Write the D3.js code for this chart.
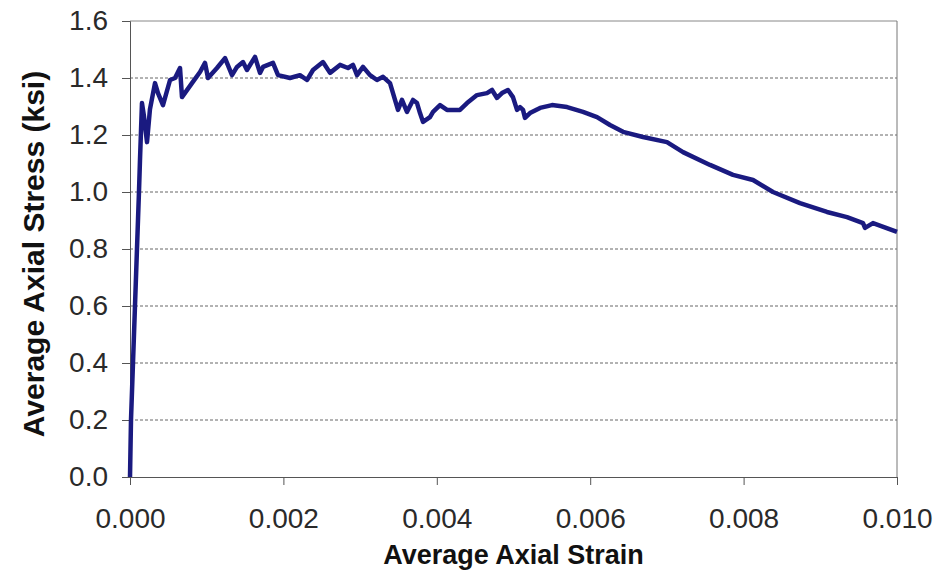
<!DOCTYPE html>
<html>
<head>
<meta charset="utf-8">
<script src="https://cdn.jsdelivr.net/npm/d3@7"></script>
<style>
  body { margin: 0; background: #fff; }
  svg { display: block; font-family: Arial, "Liberation Sans", sans-serif; }
</style>
</head>
<body>
<script>
// strain / stress
const strain = [0, 0.000013, 0.000039, 0.000065, 0.000091, 0.000117, 0.00013, 0.000156, 0.00018, 0.000222,
  0.00026, 0.000326, 0.000365, 0.00043, 0.000522, 0.000587, 0.000652, 0.000678, 0.000808, 0.000913,
  0.000978, 0.001017, 0.001134, 0.001239, 0.00133, 0.001395, 0.001473, 0.001525, 0.00163, 0.001695,
  0.001734, 0.001864, 0.00193, 0.002086, 0.002216, 0.002308, 0.002386, 0.002516, 0.002608, 0.002738,
  0.002842, 0.002907, 0.00296, 0.003038, 0.003129, 0.00322, 0.003299, 0.00339, 0.003455, 0.003494,
  0.003546, 0.003611, 0.00369, 0.003742, 0.003781, 0.00382, 0.003911, 0.003951, 0.004042, 0.004133,
  0.004302, 0.004394, 0.004524, 0.004654, 0.00472, 0.004785, 0.00485, 0.004928, 0.004993, 0.005046,
  0.005085, 0.005124, 0.00515, 0.005215, 0.005346, 0.005502, 0.005698, 0.005906, 0.006089, 0.006258,
  0.006428, 0.006688, 0.007001, 0.00721, 0.007562, 0.007862, 0.008123, 0.008383, 0.008735, 0.009087,
  0.009348, 0.009557, 0.009583, 0.009687, 0.01]
const stress = [0, 0.20, 0.40, 0.60, 0.80, 1.00, 1.11, 1.312, 1.27, 1.175,
  1.29, 1.382, 1.347, 1.305, 1.393, 1.40, 1.435, 1.333, 1.382, 1.421,
  1.453, 1.40, 1.435, 1.47, 1.41, 1.439, 1.456, 1.428, 1.474, 1.418,
  1.439, 1.453, 1.41, 1.40, 1.41, 1.393, 1.428, 1.456, 1.418, 1.446,
  1.435, 1.446, 1.41, 1.439, 1.41, 1.393, 1.404, 1.382, 1.323, 1.288,
  1.323, 1.281, 1.323, 1.312, 1.277, 1.246, 1.263, 1.281, 1.305, 1.288,
  1.288, 1.312, 1.34, 1.347, 1.358, 1.33, 1.347, 1.358, 1.333, 1.288,
  1.298, 1.288, 1.26, 1.277, 1.295, 1.305, 1.298, 1.281, 1.263, 1.235,
  1.211, 1.193, 1.175, 1.14, 1.095, 1.06, 1.042, 1.0, 0.961, 0.93,
  0.912, 0.891, 0.874, 0.891, 0.86]
const xTicks = [0, 0.002, 0.004, 0.006, 0.008, 0.010]
const yTicks = [0, 0.2, 0.4, 0.6, 0.8, 1.0, 1.2, 1.4, 1.6]

const WIDTH = 937, HEIGHT = 573
const M = {top: 21, right: 40, bottom: 96, left: 130}
const W = WIDTH - M.left - M.right
const H = HEIGHT - M.top - M.bottom

const svg = d3.select('body').append('svg')
  .attr('width', WIDTH).attr('height', HEIGHT)

const x = d3.scaleLinear().domain([0, 0.01]).range([0, W])
const y = d3.scaleLinear().domain([0, 1.6]).range([H, 0])

const g = svg.append('g').attr('transform', `translate(${M.left},${M.top})`)

// dashed gridlines
g.selectAll('line.grid')
  .data(yTicks.filter(d => d > 0 && d < 1.6))
  .enter().append('line')
  .attr('class', 'grid')
  .attr('x1', 0).attr('x2', W)
  .attr('y1', d => y(d)).attr('y2', d => y(d))
  .attr('stroke', '#666')
  .attr('stroke-width', 1)
  .attr('stroke-dasharray', '3,2')

// plot border top / right
g.append('line').attr('x1', 0).attr('x2', W).attr('y1', 0).attr('y2', 0)
  .attr('stroke', '#888').attr('stroke-width', 1)
g.append('line').attr('x1', W).attr('x2', W).attr('y1', 0).attr('y2', H)
  .attr('stroke', '#777').attr('stroke-width', 1)

const xAxis = g.append('g')
  .attr('transform', `translate(0,${H})`)
  .call(d3.axisBottom(x).tickValues(xTicks).tickFormat(d3.format('.3f')).tickSize(8).tickPadding(23))
const yAxis = g.append('g')
  .call(d3.axisLeft(y).tickValues(yTicks).tickFormat(d3.format('.1f')).tickSize(8).tickPadding(14))

for (const ax of [xAxis, yAxis]) {
  ax.select('.domain').attr('stroke', '#555')
  ax.selectAll('.tick line').attr('stroke', '#555')
  ax.selectAll('.tick text')
    .attr('fill', '#2a2a2a')
    .style('font-size', '28px')
    .style('font-family', 'Arial, "Liberation Sans", sans-serif')
}

// curve
const pts = strain.map((s, i) => [s, stress[i]])
g.append('path')
  .datum(pts)
  .attr('fill', 'none')
  .attr('stroke', '#1a1a80')
  .attr('stroke-width', 4.5)
  .attr('stroke-linejoin', 'round')
  .attr('d', d3.line().x(d => x(d[0])).y(d => y(d[1])))

// axis titles
svg.append('text')
  .attr('x', M.left + W / 2).attr('y', 564)
  .attr('text-anchor', 'middle')
  .style('font-size', '27px').style('font-weight', 'bold')
  .attr('fill', '#111')
  .text('Average Axial Strain')

svg.append('text')
  .attr('transform', `translate(44,${M.top + H / 2 + 5}) rotate(-90)`)
  .attr('text-anchor', 'middle')
  .style('font-size', '30px').style('font-weight', 'bold')
  .attr('fill', '#111')
  .text('Average Axial Stress (ksi)')
</script>
</body>
</html>
